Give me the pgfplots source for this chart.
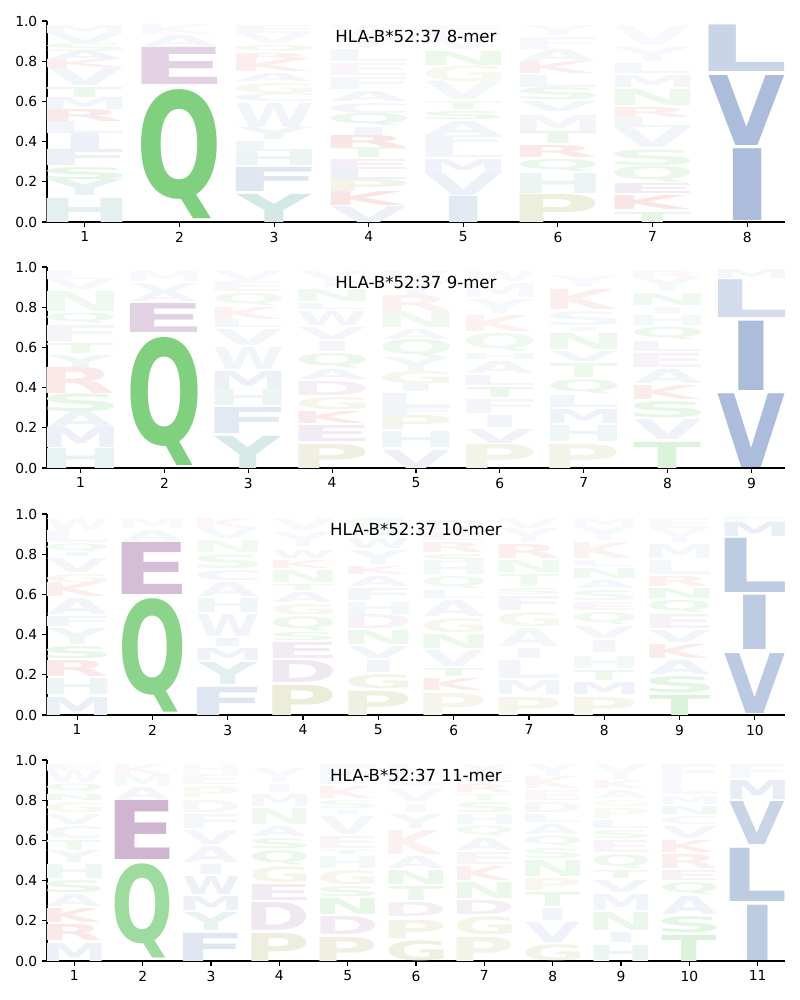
\documentclass[border=0pt]{standalone}
\usepackage{fontspec}
\setmainfont{DejaVu Sans}
\usepackage{pgfplots}
\pgfplotsset{compat=1.18}
\usepackage{graphicx}

\definecolor{cb}{RGB}{76,114,176}
\definecolor{cg}{RGB}{0,160,0}
\definecolor{cr}{RGB}{214,39,40}
\definecolor{cp}{RGB}{150,90,150}
\definecolor{ct}{RGB}{60,150,140}
\definecolor{co}{RGB}{150,150,50}

\newdimen\myxu
\newdimen\myyu
\myyu=2.01in

\newcommand\logoglyph{\expandafter\logoglyphi\logL\relax}
\def\logoglyphi#1\relax{%
  \if I#1\def\lwx{0.3}\else\def\lwx{0.8}\fi
  \setbox0=\hbox{\bfseries\color{\logC}%
    \dimen2=\XeTeXglyphbounds2 \XeTeXcharglyph`#1\relax
    \dimen4=\XeTeXglyphbounds4 \XeTeXcharglyph`#1\relax
    \kern-\XeTeXglyphbounds1 \XeTeXcharglyph`#1\relax
    \smash{#1}%
    \kern-\XeTeXglyphbounds3 \XeTeXcharglyph`#1\relax
    \vrule width 0pt height\dimen2 depth\dimen4\relax}%
  \resizebox*{\lwx\myxu}{\dimexpr\logT\myyu-\logY\myyu\relax}{\box0}%
}

\pgfplotsset{
  logoaxis/.style={
    anchor=south west, width=7.38in, height=2.01in, scale only axis,
    ymin=0, ymax=1,
    axis x line*=bottom, axis y line*=left,
    axis line style={-, line width=0.8pt},
    tick align=outside, major tick length=3.5pt,
    tick style={black, line width=0.8pt},
    ytick={0,0.2,0.4,0.6,0.8,1.0},
    yticklabel style={/pgf/number format/.cd, fixed, fixed zerofill, precision=1},
    /pgf/number format/assume math mode=true,
    ticklabel style={font=\fontsize{10}{12}\selectfont},
    every axis title shift=0pt,
    title style={font=\fontsize{12}{14}\selectfont, at={(axis description cs:0.5,0.925)}, anchor=center, yshift=0pt},
    clip=false,
  },
  logoplot/.style={
    draw=none, mark=none,
    nodes near coords={\logoglyph},
    visualization depends on={value \thisrow{y}\as\logY},
    visualization depends on={value \thisrow{t}\as\logT},
    visualization depends on={value \thisrow{L}\as\logL},
    visualization depends on={value \thisrow{c}\as\logC},
    every node near coord/.append style={anchor=south, inner sep=0pt, outer sep=0pt},
  },
}

\begin{document}
\begin{tikzpicture}
\useasboundingbox (0,0) rectangle (8in,-10in);

\myxu=0.94615in
\begin{axis}[logoaxis, at={(0.47in,-2.22in)}, xmin=0.6, xmax=8.4, xtick={1,...,8},
  title={HLA-B*52:37 8-mer}]
\addplot[logoplot] table[x=x, y=y] {
x y t L c
1 0.00 0.12 H ct!14
1 0.13 0.21 Y ct!12
1 0.21 0.27 S cg!10
1 0.28 0.36 F cb!10
1 0.36 0.44 I cb!10
1 0.44 0.50 L cb!8
1 0.50 0.56 R cr!10
1 0.56 0.62 M cb!8
1 0.62 0.67 T cg!8
1 0.68 0.77 V cb!8
1 0.77 0.81 K cr!8
1 0.81 0.85 A cb!8
1 0.85 0.89 S cg!6
1 0.89 0.94 V cb!6
1 0.94 0.98 M cb!5
2 0.015 0.657 Q cg!50
2 0.682 0.867 E cp!27
2 0.875 0.93 A cb!6
2 0.935 0.985 K cb!4
3 0.00 0.14 Y ct!22
3 0.15 0.27 F cb!17
3 0.28 0.35 H ct!10
3 0.35 0.40 L cb!8
3 0.41 0.47 Y ct!8
3 0.47 0.59 W cb!8
3 0.60 0.64 C cb!7
3 0.64 0.69 G co!8
3 0.70 0.74 A cb!7
3 0.75 0.81 K cr!8
3 0.81 0.84 R cr!8
3 0.85 0.88 Q cg!6
3 0.89 0.94 V cb!5
3 0.94 0.98 E cp!5
4 0.00 0.08 V cb!10
4 0.08 0.15 K cr!12
4 0.15 0.21 P co!12
4 0.21 0.26 L cb!10
4 0.26 0.31 E cp!10
4 0.32 0.37 T cg!8
4 0.37 0.43 R cr!12
4 0.43 0.47 I cb!8
4 0.48 0.54 Q cg!8
4 0.54 0.59 C cb!7
4 0.60 0.65 A cb!7
4 0.66 0.72 F cb!6
4 0.73 0.79 E cp!6
4 0.80 0.86 L cb!6
4 0.87 0.92 Y cb!5
4 0.93 0.98 W cb!4
5 0.00 0.13 I cb!16
5 0.13 0.24 V cb!10
5 0.24 0.31 M cb!9
5 0.32 0.37 L cb!8
5 0.37 0.43 F cb!8
5 0.43 0.50 A cb!8
5 0.51 0.55 S cg!7
5 0.56 0.60 T cg!6
5 0.61 0.70 V cb!6
5 0.70 0.78 G co!7
5 0.78 0.85 N cg!7
5 0.86 0.94 V cb!5
5 0.94 0.98 F cb!4
6 0.00 0.14 P co!16
6 0.14 0.24 H ct!10
6 0.25 0.31 Q cg!8
6 0.32 0.38 R cr!10
6 0.39 0.45 T cg!8
6 0.45 0.53 M cb!7
6 0.55 0.60 V cb!7
6 0.61 0.67 S cg!7
6 0.67 0.73 L cb!6
6 0.74 0.80 K cr!8
6 0.80 0.86 A cb!6
6 0.86 0.92 F cb!5
6 0.93 0.98 Y cb!4
7 0.00 0.05 T cg!10
7 0.06 0.13 K cr!12
7 0.14 0.19 E cp!12
7 0.20 0.28 Q cg!8
7 0.28 0.36 S cg!8
7 0.37 0.47 V cb!8
7 0.47 0.52 L cb!7
7 0.52 0.57 R cr!8
7 0.58 0.66 N cg!7
7 0.67 0.73 M cb!7
7 0.74 0.79 L cb!6
7 0.80 0.87 Y cb!5
7 0.88 0.98 V cb!4
8 0.006 0.363 I cb!47
8 0.383 0.731 V cb!47
8 0.748 0.980 L cb!30
};
\end{axis}

\myxu=0.83864in
\begin{axis}[logoaxis, at={(0.47in,-4.68in)}, xmin=0.6, xmax=9.4, xtick={1,...,9},
  title={HLA-B*52:37 9-mer}]
\addplot[logoplot] table[x=x, y=y] {
x y t L c
1 0.00 0.10 H ct!12
1 0.10 0.20 M cb!10
1 0.20 0.28 A cb!9
1 0.28 0.37 S cg!9
1 0.37 0.50 R cr!10
1 0.50 0.56 Y ct!8
1 0.57 0.62 T cg!7
1 0.63 0.71 F cb!7
1 0.72 0.77 Q cg!7
1 0.78 0.88 N cg!6
1 0.89 0.94 V cb!5
1 0.94 0.98 L cb!4
2 0.01 0.647 Q cg!50
2 0.672 0.817 E cp!27
2 0.83 0.88 A cb!7
2 0.88 0.92 V cb!6
2 0.93 0.98 M cb!4
3 0.00 0.16 Y ct!20
3 0.17 0.30 F cb!16
3 0.31 0.39 H ct!10
3 0.39 0.48 M cb!10
3 0.49 0.60 W cb!8
3 0.61 0.69 V cb!7
3 0.70 0.74 L cb!6
3 0.74 0.80 K cr!7
3 0.81 0.87 Q cg!6
3 0.88 0.93 E cp!5
3 0.93 0.98 V cb!4
4 0.00 0.12 P co!14
4 0.13 0.21 E cp!12
4 0.22 0.28 K cr!10
4 0.29 0.35 G co!10
4 0.36 0.43 D cp!10
4 0.44 0.49 A cb!8
4 0.50 0.57 Q cg!8
4 0.58 0.63 I cb!7
4 0.64 0.70 V cb!7
4 0.71 0.78 W cb!7
4 0.79 0.82 L cb!6
4 0.83 0.89 N cg!6
4 0.90 0.98 Y cb!4
5 0.00 0.09 V cb!10
5 0.10 0.18 H ct!9
5 0.19 0.26 P co!10
5 0.26 0.30 F cb!8
5 0.30 0.37 L cb!8
5 0.38 0.42 I cb!6
5 0.42 0.48 G co!9
5 0.48 0.55 Y ct!7
5 0.55 0.64 Q cg!7
5 0.64 0.69 A cb!6
5 0.70 0.78 N cg!6
5 0.78 0.86 R cr!7
5 0.86 0.93 Y cb!5
5 0.93 0.98 V cb!4
6 0.00 0.12 P co!12
6 0.12 0.19 V cb!9
6 0.20 0.26 I cb!8
6 0.27 0.34 F cb!7
6 0.35 0.40 T cg!8
6 0.41 0.46 L cb!7
6 0.47 0.53 A cb!7
6 0.54 0.57 H ct!6
6 0.58 0.67 Q cg!6
6 0.68 0.76 K cr!7
6 0.77 0.84 Y cb!5
6 0.85 0.92 M cb!5
6 0.93 0.98 W cb!4
7 0.00 0.12 P co!12
7 0.13 0.21 H ct!9
7 0.22 0.29 M cb!9
7 0.30 0.36 L cb!8
7 0.37 0.44 Q cg!8
7 0.45 0.52 T cg!7
7 0.53 0.58 V cb!7
7 0.59 0.67 N cg!7
7 0.68 0.70 I cb!5
7 0.71 0.78 S cb!6
7 0.79 0.89 K cr!8
7 0.90 0.96 Y cb!4
8 0.00 0.13 T cg!14
8 0.14 0.24 V cb!9
8 0.25 0.33 S cg!9
8 0.34 0.41 K cr!9
8 0.42 0.49 A cb!8
8 0.50 0.57 E cp!8
8 0.58 0.63 L cb!7
8 0.64 0.70 Q cg!7
8 0.71 0.76 H ct!6
8 0.77 0.80 I cb!5
8 0.81 0.87 N cg!6
8 0.88 0.95 Y cb!5
8 0.95 0.98 R cr!4
9 0.005 0.372 V cb!47
9 0.388 0.733 I cb!47
9 0.75 0.938 L cb!25
9 0.945 0.99 M cb!6
};
\end{axis}

\myxu=0.75306in
\begin{axis}[logoaxis, at={(0.47in,-7.15in)}, xmin=0.6, xmax=10.4, xtick={1,...,10},
  title={HLA-B*52:37 10-mer}]
\addplot[logoplot] table[x=x, y=y] {
x y t L c
1 0.00 0.09 M cb!11
1 0.10 0.18 H ct!10
1 0.19 0.27 R cr!10
1 0.28 0.34 S cg!9
1 0.35 0.43 Y ct!8
1 0.44 0.49 F cb!8
1 0.50 0.58 A cb!8
1 0.59 0.66 K cr!8
1 0.66 0.70 G co!8
1 0.71 0.78 V cb!7
1 0.79 0.81 I cb!6
1 0.81 0.85 Q cg!6
1 0.86 0.92 L cb!5
1 0.92 0.98 W cb!4
2 0.015 0.579 Q cg!45
2 0.599 0.858 E cp!40
2 0.865 0.92 A cb!6
2 0.93 0.98 M cb!4
3 0.00 0.14 F cb!18
3 0.15 0.26 Y ct!14
3 0.27 0.33 M cb!9
3 0.34 0.38 I cb!8
3 0.39 0.50 W cb!8
3 0.51 0.58 H ct!8
3 0.59 0.66 A cb!7
3 0.67 0.72 C cb!7
3 0.73 0.80 S cg!6
3 0.81 0.87 N cg!5
3 0.88 0.93 V cb!5
3 0.93 0.98 K cr!4
4 0.00 0.15 P co!18
4 0.16 0.27 D cp!14
4 0.28 0.36 E cp!12
4 0.37 0.41 S cg!7
4 0.42 0.49 Q cg!7
4 0.50 0.55 G co!8
4 0.56 0.61 A cb!7
4 0.62 0.65 T cg!6
4 0.66 0.72 N cg!6
4 0.73 0.77 K cr!7
4 0.78 0.82 W cb!6
4 0.84 0.91 Y cb!5
4 0.92 0.98 V cb!4
5 0.00 0.12 P co!14
5 0.13 0.20 G co!12
5 0.21 0.27 I cb!8
5 0.28 0.34 V cb!8
5 0.35 0.42 N cg!7
5 0.43 0.50 D cp!8
5 0.50 0.56 H ct!7
5 0.57 0.63 F cb!7
5 0.64 0.69 A cb!7
5 0.70 0.74 K cr!7
5 0.75 0.82 Y cb!6
5 0.83 0.88 W cb!6
5 0.89 0.98 S cg!4
6 0.00 0.11 P co!10
6 0.12 0.18 K cr!9
6 0.19 0.23 T cg!7
6 0.24 0.32 V cb!7
6 0.33 0.40 N cg!7
6 0.41 0.48 G co!8
6 0.49 0.57 A cb!7
6 0.58 0.62 L cb!6
6 0.63 0.69 Q cg!6
6 0.70 0.76 H ct!6
6 0.76 0.80 S cg!6
6 0.81 0.86 R cr!7
6 0.87 0.91 E cp!6
6 0.92 0.97 D cp!5
7 0.00 0.09 P co!10
7 0.10 0.17 M cb!8
7 0.18 0.27 L cb!7
7 0.28 0.33 I cb!7
7 0.34 0.43 A cb!6
7 0.44 0.51 G co!8
7 0.52 0.59 F cb!7
7 0.60 0.63 S cg!6
7 0.64 0.70 T cg!6
7 0.71 0.77 N cg!6
7 0.78 0.85 R cr!8
7 0.86 0.93 Y cb!5
7 0.93 0.98 V cb!4
8 0.00 0.09 P co!10
8 0.10 0.16 M cb!9
8 0.17 0.22 T cg!7
8 0.23 0.29 H ct!7
8 0.31 0.37 I cb!7
8 0.38 0.44 V cb!7
8 0.45 0.51 Q cg!6
8 0.52 0.56 E cp!7
8 0.57 0.62 S cg!6
8 0.63 0.67 A cb!6
8 0.68 0.73 N cg!6
8 0.74 0.77 L cb!5
8 0.78 0.86 K cr!6
8 0.87 0.94 Y cb!4
8 0.94 0.98 M cb!4
9 0.00 0.10 T cg!14
9 0.11 0.19 S cg!11
9 0.20 0.27 A cb!9
9 0.28 0.35 K cr!9
9 0.36 0.42 V cb!8
9 0.43 0.50 E cp!8
9 0.51 0.57 Q cg!7
9 0.58 0.63 N cg!7
9 0.64 0.69 R cr!7
9 0.70 0.77 L cb!6
9 0.78 0.85 M cb!6
9 0.86 0.93 Y cb!4
9 0.93 0.98 E cp!4
10 0.01 0.308 V cb!38
10 0.325 0.595 I cb!37
10 0.61 0.88 L cb!36
10 0.889 0.96 M cb!12
10 0.965 0.99 F cb!4
};
\end{axis}

\myxu=0.68333in
\begin{axis}[logoaxis, at={(0.47in,-9.61in)}, xmin=0.6, xmax=11.4, xtick={1,...,11},
  title={HLA-B*52:37 11-mer}]
\addplot[logoplot] table[x=x, y=y] {
x y t L c
1 0.00 0.09 M cb!10
1 0.10 0.18 R cr!10
1 0.19 0.26 K cr!10
1 0.27 0.33 A cb!8
1 0.34 0.40 S cg!8
1 0.41 0.48 H ct!8
1 0.49 0.55 Y cb!7
1 0.55 0.60 T cg!6
1 0.61 0.67 C cb!6
1 0.68 0.73 V cb!6
1 0.74 0.79 G co!7
1 0.80 0.83 N cg!6
1 0.84 0.88 Q cg!6
1 0.89 0.95 W cb!5
1 0.95 0.98 E cp!4
2 0.015 0.483 Q cg!38
2 0.503 0.797 E cp!45
2 0.806 0.865 A cb!7
2 0.87 0.93 M cb!5
2 0.93 0.98 K cr!4
3 0.00 0.14 F cb!18
3 0.15 0.24 Y ct!12
3 0.25 0.32 M cb!10
3 0.33 0.42 W cb!10
3 0.43 0.48 I cb!8
3 0.49 0.57 A cb!7
3 0.58 0.65 V cb!7
3 0.66 0.73 F cb!6
3 0.74 0.80 D cp!6
3 0.81 0.87 P co!6
3 0.88 0.93 E cp!5
3 0.93 0.98 H ct!4
4 0.00 0.14 P co!16
4 0.15 0.29 D cp!14
4 0.30 0.38 E cp!12
4 0.39 0.47 G co!10
4 0.48 0.55 Q cg!8
4 0.56 0.61 S cg!7
4 0.62 0.67 A cb!7
4 0.68 0.76 N cg!6
4 0.77 0.83 M cb!6
4 0.84 0.88 I cb!5
4 0.89 0.96 Y cb!4
5 0.00 0.12 P co!14
5 0.13 0.22 D cp!12
5 0.23 0.31 N cg!9
5 0.32 0.37 S cg!8
5 0.38 0.45 G co!9
5 0.46 0.52 H ct!7
5 0.53 0.55 T cg!6
5 0.56 0.62 E cp!7
5 0.63 0.72 V cb!6
5 0.73 0.75 I cb!5
5 0.76 0.80 S cg!5
5 0.81 0.87 K cr!6
5 0.88 0.98 F cb!4
6 0.00 0.10 G co!14
6 0.11 0.20 P co!12
6 0.22 0.29 D cp!10
6 0.30 0.37 T cg!8
6 0.38 0.45 N cg!8
6 0.46 0.52 A cb!7
6 0.53 0.65 K cr!7
6 0.66 0.73 Y cb!6
6 0.74 0.78 I cb!5
6 0.79 0.86 V cb!5
6 0.87 0.98 L cb!4
7 0.00 0.12 P co!12
7 0.13 0.22 G co!11
7 0.23 0.30 D cp!10
7 0.31 0.39 N cg!8
7 0.40 0.47 K cr!8
7 0.48 0.54 E cp!7
7 0.55 0.61 A cb!7
7 0.62 0.67 Q cg!6
7 0.68 0.73 H ct!6
7 0.74 0.79 S cg!6
7 0.80 0.83 T cg!5
7 0.84 0.88 R cr!6
7 0.89 0.93 E cp!5
7 0.93 0.98 Y cb!4
8 0.00 0.08 G co!12
8 0.09 0.19 V cb!9
8 0.20 0.26 I cb!8
8 0.27 0.34 T cg!8
8 0.35 0.41 P co!8
8 0.42 0.50 N cg!7
8 0.51 0.56 S cg!6
8 0.57 0.62 Q cg!6
8 0.63 0.68 A cb!6
8 0.69 0.73 L cb!6
8 0.74 0.79 D cp!6
8 0.80 0.85 E cp!5
8 0.86 0.92 K cr!5
8 0.92 0.98 Y cb!4
9 0.00 0.08 H ct!10
9 0.09 0.14 I cb!8
9 0.15 0.24 N cg!8
9 0.25 0.33 M cb!8
9 0.34 0.40 V cb!8
9 0.41 0.45 T cg!7
9 0.46 0.53 Q cg!7
9 0.54 0.60 E cp!7
9 0.61 0.65 S cg!6
9 0.66 0.70 L cb!6
9 0.71 0.76 P co!6
9 0.77 0.80 G co!5
9 0.81 0.85 A cb!5
9 0.86 0.90 K cr!5
9 0.90 0.98 Y cb!4
10 0.00 0.13 T cg!14
10 0.14 0.22 S cg!11
10 0.23 0.32 A cb!9
10 0.33 0.39 Q cg!8
10 0.40 0.45 E cp!8
10 0.46 0.53 R cr!8
10 0.54 0.60 K cr!8
10 0.61 0.67 V cb!7
10 0.68 0.72 C cb!6
10 0.73 0.77 N cg!6
10 0.78 0.82 M cb!5
10 0.83 0.90 L cb!5
10 0.90 0.98 F cb!4
11 0.005 0.28 I cb!36
11 0.297 0.562 L cb!36
11 0.579 0.793 V cb!30
11 0.803 0.897 M cb!13
11 0.91 0.98 F cb!5
};
\end{axis}
\end{tikzpicture}
\end{document}
